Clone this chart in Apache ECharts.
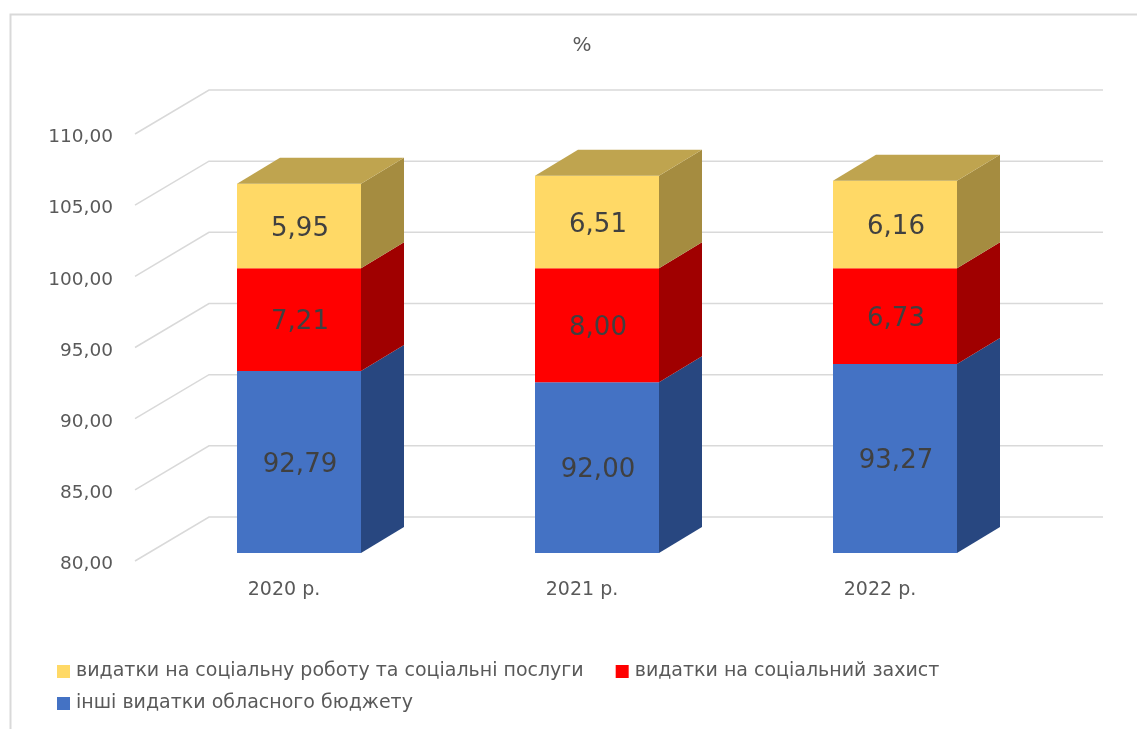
<!DOCTYPE html>
<html><head><meta charset="utf-8">
<style>html,body{margin:0;padding:0;background:#fff}#c{width:1137px;height:729px}</style>
<script src="https://cdn.jsdelivr.net/npm/echarts@6/dist/echarts.min.js"></script>
</head><body><div id="c"></div>
<script>
var categories = ['2020 р.', '2021 р.', '2022 р.'];
var otherValues = [92.79, 92.00, 93.27];
var protectionValues = [7.21, 8.00, 6.73];
var serviceValues = [5.95, 6.51, 6.16];
var yTicks = [80, 85, 90, 95, 100, 105, 110];
var nameOther = 'інші видатки обласного бюджету';
var nameProtection = 'видатки на соціальний захист';
var nameService = 'видатки на соціальну роботу та соціальні послуги';
var FONT = '"DejaVu Sans", sans-serif';
var AXIS_MIN = 80;

function fmt(v){ return v.toFixed(2).replace('.', ','); }

function barRender(front, side, top, showTop){
  return function(params, api){
    var i = api.value(0), base = api.value(1), val = api.value(2);
    var p0 = api.coord([i, Math.max(base, AXIS_MIN)]), p1 = api.coord([i, base + val]);
    var cx = p0[0] + 15, hw = 62, off = -8, dx = 43, dy = 26;
    var L = cx - hw, R = cx + hw, yb = p0[1] + off, yt = p1[1] + off;
    var ch = [
      {type:'polygon', shape:{points:[[R,yb],[R+dx,yb-dy],[R+dx,yt-dy],[R,yt]]}, style:{fill:side}},
      {type:'rect', shape:{x:L,y:yt,width:hw*2,height:yb-yt}, style:{fill:front}}
    ];
    if (showTop) ch.push({type:'polygon', shape:{points:[[L,yt],[L+dx,yt-dy],[R+dx,yt-dy],[R,yt]]}, style:{fill:top}});
    ch.push({type:'text', style:{x:cx+1, y:(yb+yt)/2+3, text:fmt(val), align:'center', verticalAlign:'middle',
      fill:'#404040', font:'26px '+FONT}});
    return {type:'group', children:ch};
  };
}

function wallRender(params, api){
  var p = api.coord([0, api.value(1)]);
  var x0 = params.coordSys.x, w = params.coordSys.width;
  var y = p[1];
  return {type:'polyline', shape:{points:[[x0,y],[x0+74,y-44],[x0+74+w,y-44]]},
    style:{stroke:'#d9d9d9', lineWidth:1.5, fill:null}};
}

var otherData = categories.map(function(c,i){ return [i, 0, otherValues[i]]; });
var protData = categories.map(function(c,i){ return [i, otherValues[i], protectionValues[i]]; });
var servData = categories.map(function(c,i){ return [i, otherValues[i]+protectionValues[i], serviceValues[i]]; });

function barSeries(name, data, color, render){
  return {name:name, type:'custom', data:data, renderItem:render, clip:false,
    itemStyle:{color:color}, encode:{x:0, y:2}, animation:false};
}

var chart = echarts.init(document.getElementById('c'), null, {renderer:'canvas'});
chart.setOption({
  animation:false,
  backgroundColor:'#ffffff',
  title:{text:'%', left:577, top:31, textAlign:'center',
    textStyle:{fontFamily:FONT, fontSize:20, fontWeight:'normal', color:'#595959'}},
  graphic:[{type:'polyline', silent:true, shape:{points:[[10.5,729],[10.5,14.5],[1137,14.5]]},
    style:{stroke:'#d9d9d9', lineWidth:2, fill:null}}],
  grid:{left:135, top:134, width:894, height:427},
  xAxis:{type:'category', data:categories, axisLine:{show:false}, axisTick:{show:false}, splitLine:{show:false},
    axisLabel:{margin:20, color:'#595959', fontFamily:FONT, fontSize:19}},
  yAxis:{type:'value', min:80, max:110, interval:5, axisLine:{show:false}, axisTick:{show:false}, splitLine:{show:false},
    axisLabel:{margin:22, formatter:function(v){return '{t|' + fmt(v) + '}';},
      rich:{t:{color:'#595959', fontFamily:FONT, fontSize:18.5, padding:[7,0,0,0]}}}},
  legend:[
    {data:[nameService, nameProtection], left:57, top:662, itemWidth:13, itemHeight:13, itemGap:32, padding:0,
     icon:'rect', textStyle:{fontFamily:FONT, fontSize:19, color:'#595959', padding:[0,0,0,1]}, selectedMode:false},
    {data:[nameOther], left:57, top:694, itemWidth:13, itemHeight:13, padding:0,
     icon:'rect', textStyle:{fontFamily:FONT, fontSize:19, color:'#595959', padding:[0,0,0,1]}, selectedMode:false}
  ],
  series:[
    {type:'custom', data:yTicks.map(function(t){return [0,t];}), renderItem:wallRender, clip:false,
     encode:{x:0,y:1}, silent:true, z:1},
    barSeries(nameOther, otherData, '#4472C4', barRender('#4472C4','#284780','#2F5597',false)),
    barSeries(nameProtection, protData, '#FF0000', barRender('#FF0000','#A00000','#C00000',false)),
    barSeries(nameService, servData, '#FFD966', barRender('#FFD966','#A58C40','#BFA44F',true))
  ]
});
</script></body></html>
